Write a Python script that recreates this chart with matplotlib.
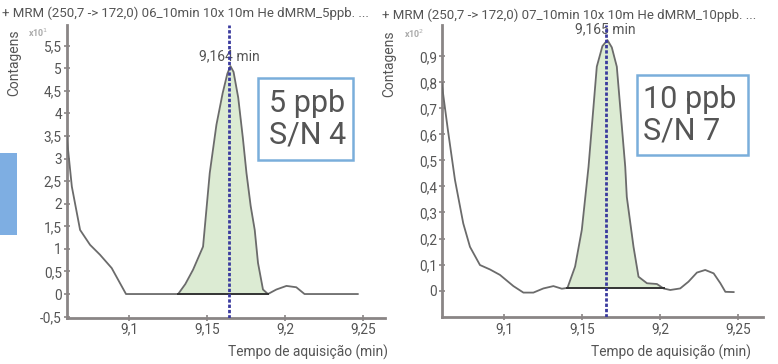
import matplotlib
matplotlib.use("Agg")
import matplotlib.pyplot as plt
from matplotlib.patches import Rectangle
from matplotlib.ticker import FuncFormatter

plt.rcParams['font.family'] = ['Roboto', 'DejaVu Sans']

W, H = 778, 364

# ---------------- data ----------------
titles = ["+ MRM (250,7 -> 172,0) 06_10min 10x 10m He dMRM_5ppb. ...",
          "+ MRM (250,7 -> 172,0) 07_10min 10x 10m He dMRM_10ppb. ..."]
multipliers = [r"x10$^{1}$", r"x10$^{2}$"]
box_texts = ["5 ppb\nS/N 4", "10 ppb\nS/N 7"]
rt_values = [9.164, 9.165]
rt_labels = ["9,164 min", "9,165 min"]

t_left = [9.0598, 9.0631, 9.0684, 9.0748, 9.0812, 9.0887, 9.0979, 9.1100, 9.1200,
          9.1314, 9.1360, 9.1410, 9.1474, 9.1517, 9.1560, 9.1600, 9.1630, 9.1650,
          9.1670, 9.1700, 9.1730, 9.1753, 9.1780, 9.1806, 9.1827, 9.1859, 9.1891,
          9.1945, 9.2010, 9.2073, 9.2126, 9.2300, 9.2468]
v_left = [3.49, 2.38, 1.42, 1.09, 0.87, 0.575, 0.0, 0.0, 0.0,
          0.0, 0.22, 0.54, 1.05, 2.68, 3.75, 4.45, 4.88, 5.05,
          4.92, 4.35, 3.45, 2.68, 1.95, 1.42, 0.69, 0.10, 0.0,
          0.10, 0.18, 0.15, 0.0, 0.0, 0.0]
peak_left = (9.1314, 9.1891)
base_left = 0.0

t_right = [9.0601, 9.0640, 9.0686, 9.0739, 9.0782, 9.0846, 9.0910, 9.0974, 9.1060,
           9.1124, 9.1188, 9.1252, 9.1316, 9.1370, 9.1406, 9.1455, 9.1498, 9.1541,
           9.1594, 9.1630, 9.1662, 9.1690, 9.1722, 9.1776, 9.1786, 9.1829, 9.1861,
           9.1915, 9.1979, 9.2021, 9.2064, 9.2128, 9.2181, 9.2235, 9.2288, 9.2342,
           9.2385, 9.2417, 9.2470]
v_right = [0.797, 0.62, 0.425, 0.258, 0.168, 0.098, 0.081, 0.060, 0.017,
           -0.008, -0.008, 0.008, 0.017, 0.007, 0.010, 0.092, 0.233, 0.476,
           0.861, 0.94, 0.963, 0.935, 0.861, 0.476, 0.36, 0.168, 0.053,
           0.028, 0.025, 0.008, 0.002, 0.008, 0.034, 0.069, 0.079, 0.066,
           0.028, -0.005, -0.006]
peak_right = (9.1406, 9.2021)
base_right = 0.010

yticks_left = [-0.5, 0, 0.5, 1, 1.5, 2, 2.5, 3, 3.5, 4, 4.5, 5, 5.5]
yticks_right = [0, 0.1, 0.2, 0.3, 0.4, 0.5, 0.6, 0.7, 0.8, 0.9]
xticks = [9.1, 9.15, 9.2, 9.25]

# ---------------- layout helpers ----------------
def fx(x):
    return x / W

def fy(y):
    return 1 - y / H

fig = plt.figure(figsize=(W / 100, H / 100), dpi=100)
fig.patch.set_facecolor("white")

TXT = "#555555"
SPINE = "#8a8585"

def fmt(v, pos):
    s = ("%g" % v).replace(".", ",")
    return s

panels = [
    dict(rect=[fx(66.7), fy(317.5), fx(385) - fx(66.7), fy(25) - fy(317.5)],
         t=t_left, v=v_left, peak=peak_left, base=base_left,
         xlim=(9.0598, 9.2643), ylim=(-0.52, 5.96), yt=yticks_left,
         title_xy=(2, 13), ylab_xy=(14, 63), mult_xy=(28, 33),
         box=(258, 78, 353, 160), text_x=269, lab_y=5.27,
         xlab_xy=(388, 352)),
    dict(rect=[fx(441.7), fy(317.3), fx(763) - fx(441.7), fy(25) - fy(317.3)],
         t=t_right, v=v_right, peak=peak_right, base=base_right,
         xlim=(9.0601, 9.2658), ylim=(-0.103, 1.021), yt=yticks_right,
         title_xy=(382, 15), ylab_xy=(389, 64), mult_xy=(404, 34),
         box=(637.3, 75, 748.3, 155), text_x=643, lab_y=1.005,
         xlab_xy=(751, 352)),
]

for i, p in enumerate(panels):
    ax = fig.add_axes(p["rect"])
    ax.set_facecolor("white")
    for s in ["top", "right"]:
        ax.spines[s].set_visible(False)
    for s in ["left", "bottom"]:
        ax.spines[s].set_color(SPINE)
        ax.spines[s].set_linewidth(2.0)
    ax.set_xlim(*p["xlim"])
    ax.set_ylim(*p["ylim"])
    ax.set_xticks(xticks)
    ax.set_yticks(p["yt"])
    ax.xaxis.set_major_formatter(FuncFormatter(fmt))
    ax.yaxis.set_major_formatter(FuncFormatter(fmt))
    ax.tick_params(axis="both", direction="inout", length=5, width=1.2,
                   color=SPINE, labelcolor=TXT, labelsize=9.8, pad=1)

    t, v = p["t"], p["v"]
    a, b = p["peak"]
    # fill under peak
    ft = [x for x in t if a <= x <= b]
    fv = [v[t.index(x)] for x in ft]
    ax.fill_between(ft, [p["base"]] * len(ft), fv, color="#dcebd3", zorder=1, lw=0)
    ax.plot(t, v, color="#6b6b6b", lw=1.3, zorder=3)
    ax.plot([a, b], [p["base"], p["base"]], color="#333333", lw=1.4, zorder=4)
    ax.axvline(rt_values[i], color="#3a3a9e", lw=2.0, ls=(0, (1.2, 0.7)), zorder=6)
    ax.text(rt_values[i], p["lab_y"], rt_labels[i], ha="center", va="center",
            fontsize=10, color=TXT, zorder=5, clip_on=False,
            bbox=dict(facecolor="white", edgecolor="none", pad=0.5))

    # texts outside
    fig.text(fx(p["title_xy"][0]), fy(p["title_xy"][1]), titles[i], ha="left",
             va="center", fontsize=9.55, color=TXT)
    fig.text(fx(p["ylab_xy"][0]), fy(p["ylab_xy"][1]), "Contagens", rotation=90,
             ha="center", va="center", fontsize=10, color=TXT)
    fig.text(fx(p["mult_xy"][0]), fy(p["mult_xy"][1]), multipliers[i], ha="left",
             va="center", fontsize=6.5, color="#aaaaaa", fontweight="bold")
    fig.text(fx(p["xlab_xy"][0]), fy(p["xlab_xy"][1]), "Tempo de aquisição (min)",
             ha="right", va="center", fontsize=9.9, color=TXT)

    x0, y0, x1, y1 = p["box"]
    fig.add_artist(Rectangle((fx(x0), fy(y1)), fx(x1) - fx(x0), fy(y0) - fy(y1),
                             transform=fig.transFigure, facecolor="white",
                             edgecolor="#7aaedb", lw=1.8, zorder=10))
    fig.text(fx(p["text_x"]), fy((y0 + y1) / 2), box_texts[i], ha="left",
             va="center", fontsize=22, color=TXT, linespacing=1.1, zorder=11)

# blue artifact rectangle at left edge
fig.add_artist(Rectangle((fx(0), fy(235)), fx(17), fy(153) - fy(235),
                         transform=fig.transFigure, facecolor="#7eaee2",
                         edgecolor="none", zorder=10))

fig.savefig("out.png", dpi=100, facecolor="white")
